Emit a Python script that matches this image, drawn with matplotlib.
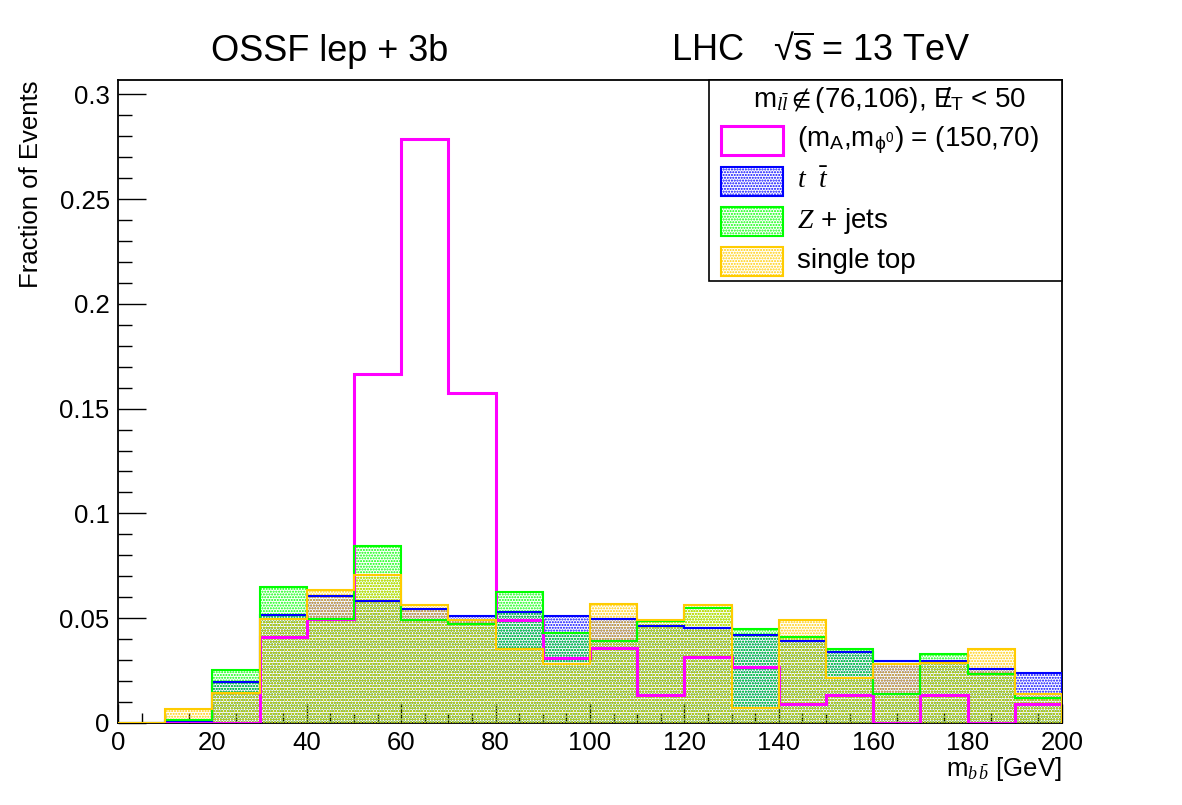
import numpy as np
import matplotlib.pyplot as plt
from matplotlib.patches import Rectangle
from matplotlib.ticker import MultipleLocator, FuncFormatter

# ROOT-like look: Helvetica-ish sans, serif italic for math symbols
plt.rcParams['font.family'] = ['Liberation Sans', 'DejaVu Sans']
plt.rcParams['mathtext.fontset'] = 'custom'
plt.rcParams['mathtext.rm'] = 'Liberation Sans'
plt.rcParams['mathtext.it'] = 'Liberation Serif:italic'
plt.rcParams['mathtext.bf'] = 'Liberation Sans:bold'
plt.rcParams['mathtext.sf'] = 'Liberation Sans'
plt.rcParams['mathtext.fallback'] = 'stixsans'
plt.rcParams['hatch.linewidth'] = 1.0

############ Data (fraction of events per 10 GeV bin) ############
bin_edges = [0, 10, 20, 30, 40, 50, 60, 70, 80, 90, 100,
             110, 120, 130, 140, 150, 160, 170, 180, 190, 200]

signal = [0, 0, 0, 0.041, 0.0496, 0.1665, 0.2786, 0.1574, 0.049, 0.031,
          0.036, 0.0134, 0.0315, 0.0267, 0.009, 0.0134, 0, 0.0134, 0, 0.009]
ttbar = [0, 0.0008, 0.0194, 0.0515, 0.0606, 0.0584, 0.0542, 0.051, 0.0528, 0.051,
         0.0495, 0.0464, 0.0455, 0.0418, 0.0391, 0.0339, 0.0297, 0.0298, 0.0259, 0.0237]
zjets = [0, 0.0015, 0.0253, 0.0647, 0.0495, 0.0846, 0.0491, 0.0471, 0.0627, 0.0428,
         0.0393, 0.0487, 0.055, 0.0448, 0.0409, 0.0352, 0.0137, 0.0329, 0.0234, 0.0118]
singletop = [0, 0.0067, 0.0142, 0.0495, 0.0635, 0.0706, 0.0563, 0.0491, 0.0352, 0.0281,
             0.0566, 0.049, 0.0563, 0.007, 0.0491, 0.0213, 0.028, 0.0285, 0.0352, 0.0138]

backgrounds = [
    (ttbar, '#0000ff', r'$t\ \ \bar{t}$'),
    (zjets, '#00ff00', r'$Z$ + jets'),
    (singletop, '#ffcc00', 'single top'),
]
signal_color = '#ff00ff'
signal_label = r'(m$_{\mathrm{A}}$,m$_{\mathrm{\phi^{0}}}$) = (150,70)'

############ Plot ############
fig = plt.figure(figsize=(11.82, 8.05), dpi=100)
ax = fig.add_axes([0.0998, 0.1019, 0.7987, 0.7987])

# dotted fills first, then the signal line, then background outlines
for vals, col, lab in backgrounds:
    ax.stairs(vals, bin_edges, fill=True, facecolor='none', edgecolor=col,
              hatch='......', linewidth=0, zorder=2)

ax.stairs(signal, bin_edges, color=signal_color, linewidth=2.2, zorder=3)

for vals, col, lab in backgrounds:
    ax.stairs(vals, bin_edges, color=col, linewidth=1.5, zorder=4)

ax.set_xlim(0, 200)
ax.set_ylim(0, 0.3068)

for s in ax.spines.values():
    s.set_linewidth(1.3)
    s.set_zorder(1)

ax.xaxis.set_major_locator(MultipleLocator(20))
ax.xaxis.set_minor_locator(MultipleLocator(5))
ax.yaxis.set_major_locator(MultipleLocator(0.05))
ax.yaxis.set_minor_locator(MultipleLocator(0.01))
ax.yaxis.set_major_formatter(FuncFormatter(lambda v, p: f'{v:g}'))

ax.tick_params(axis='x', which='major', direction='in', length=14, width=1,
               labelsize=18.5, pad=6)
ax.tick_params(axis='x', which='minor', direction='in', length=7, width=1)
ax.tick_params(axis='y', which='major', direction='in', length=20, width=1,
               labelsize=18.5, pad=6)
ax.tick_params(axis='y', which='minor', direction='in', length=10, width=1)

ax.set_ylabel('Fraction of Events', fontsize=18.5, loc='top', labelpad=12)
ax.set_xlabel(r'm$_{b\,\bar{b}}$ [GeV]', fontsize=18.5, loc='right', labelpad=0)

# Titles
fig.text(0.279, 0.936, 'OSSF lep + 3b', fontsize=26, ha='center', va='center')
fig.text(0.568, 0.936, r'LHC   √$\overline{\mathrm{s}}$ = 13 TeV', fontsize=26,
         ha='left', va='center')

# Legend box (ROOT TLegend style)
ax.add_patch(Rectangle((0.626, 0.6874), 0.374, 0.3126, transform=ax.transAxes,
                       facecolor='white', edgecolor='black', linewidth=1.2,
                       zorder=10, clip_on=False))
ax.text(0.817, 0.969, r'm$_{l\bar{l}}$$\notin$(76,106), $\mathrm{E}\!\!\!/_{\mathrm{T}}$ < 50',
        transform=ax.transAxes, ha='center', va='center', fontsize=20, zorder=11)

entries = [(None, signal_color, signal_label)] + backgrounds
box_bottoms = [0.8834, 0.8196, 0.7574, 0.6952]
text_ys = [0.9067, 0.8429, 0.7807, 0.7185]
for (vals, col, lab), yb, yt in zip(entries, box_bottoms, text_ys):
    if vals is None:
        ax.add_patch(Rectangle((0.639, yb), 0.0657, 0.0451, transform=ax.transAxes,
                               facecolor='white', edgecolor=col, linewidth=2.2,
                               zorder=11, clip_on=False))
    else:
        ax.add_patch(Rectangle((0.639, yb), 0.0657, 0.0451, transform=ax.transAxes,
                               facecolor='white', edgecolor=col, hatch='......',
                               linewidth=1.5, zorder=11, clip_on=False))
    ax.text(0.719, yt, lab, transform=ax.transAxes, ha='left', va='center',
            fontsize=20, zorder=11)

plt.savefig('out.png', dpi=100)
